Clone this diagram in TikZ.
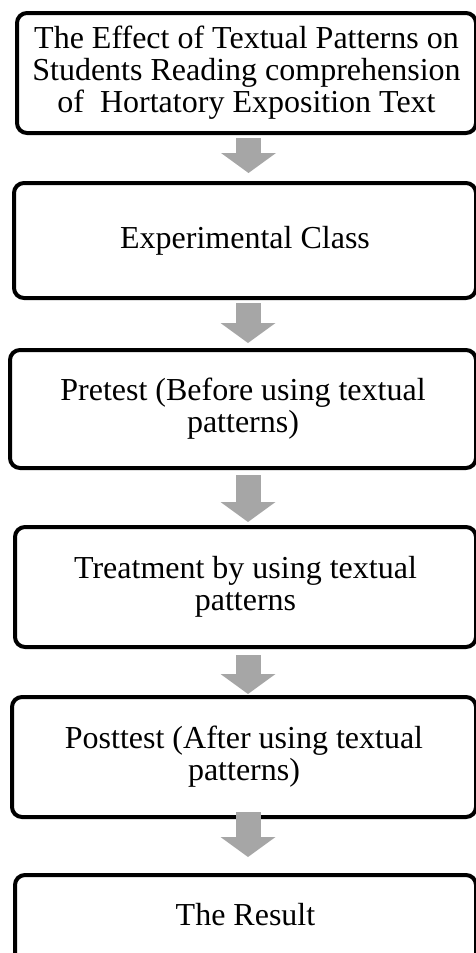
\documentclass[tikz,border=0pt]{standalone}
\usepackage{fontspec}
\setmainfont{Liberation Serif}
\usepackage{xcolor}
\usepackage{tikz}
\usetikzlibrary{arrows.meta}

\tikzset{
    stepbox/.style={draw, line width=4pt, rounded corners=10pt, align=center,
        inner sep=0pt, outer sep=0pt, font=\fontsize{32}{32}\selectfont},
    flowarrow/.style={draw=gray!70, fill=gray!70, line width=25pt,
        -{Triangle[width=55pt 0 0, length=20pt 0 0, line width=0pt 0 0]}}
}

\begin{document}
\begin{tikzpicture}[x=1pt, y=-1pt]
            \useasboundingbox (0,0) rectangle (476,953);
            \node[stepbox, minimum width=459pt, minimum height=120pt] (effect) at (246.5,73)
                {The Effect of Textual Patterns on\\Students Reading comprehension\\of~ Hortatory Exposition Text};
            \node[stepbox, minimum width=462pt, minimum height=115pt] (class) at (245,240.5)
                {Experimental Class};
            \node[stepbox, minimum width=466pt, minimum height=118pt] (pretest) at (243,409)
                {Pretest (Before using textual\\patterns)};
            \node[stepbox, minimum width=461pt, minimum height=120pt] (treatment) at (245.5,587)
                {Treatment by using textual\\patterns};
            \node[stepbox, minimum width=464pt, minimum height=120pt] (posttest) at (244,757)
                {Posttest (After using textual\\patterns)};
            \node[stepbox, minimum width=461pt, text height=50pt, text depth=40pt, anchor=north] (result) at (245.5,875)
                {The Result};
            % arrows between the steps
            \draw[flowarrow, shorten <=5pt, shorten >=10pt] ([xshift=2pt]effect.south) -- ([xshift=2pt]effect.south |- class.north);
            \draw[flowarrow, shorten <=5pt, shorten >=7pt] ([xshift=3pt]class.south) -- ([xshift=3pt]class.south |- pretest.north);
            \draw[flowarrow, shorten <=7pt, shorten >=5pt] ([xshift=5pt]pretest.south) -- ([xshift=5pt]pretest.south |- treatment.north);
            \draw[flowarrow, shorten <=8pt, shorten >=3pt] ([xshift=2.5pt]treatment.south) -- ([xshift=2.5pt]treatment.south |- posttest.north);
            \draw[flowarrow, shorten <=-5pt, shorten >=18pt] ([xshift=4pt]posttest.south) -- ([xshift=4pt]posttest.south |- result.north);
        \end{tikzpicture}
\end{document}
